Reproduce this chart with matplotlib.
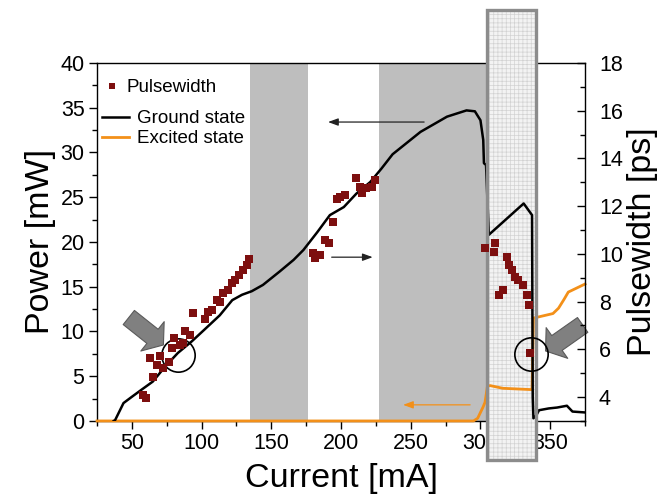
import matplotlib
matplotlib.use("Agg")
import matplotlib.pyplot as plt
import matplotlib.transforms as mtransforms
from matplotlib.patches import Rectangle
from matplotlib.lines import Line2D
from matplotlib.ticker import MultipleLocator
import numpy as np

plt.rcParams['font.family'] = ['Liberation Sans', 'DejaVu Sans']
plt.rcParams['hatch.linewidth'] = 0.5

# ---------------- data ----------------
gs_x = [37, 38, 44, 50, 57, 65, 74, 83, 93, 102, 113, 122, 129, 136, 144, 156, 166,
        173, 183, 192, 202, 211, 221, 229, 237, 257, 276, 290, 296, 300, 302, 302.5, 304,
        306, 331, 337, 337.5, 338, 340, 342, 349, 355, 362, 366, 375]
gs_p = [0, 0.1, 2.0, 2.7, 3.5, 4.4, 6.1, 7.6, 8.9, 10.2, 11.8, 13.5, 14.1, 14.5, 15.2, 16.7, 18.0,
        19.1, 21.1, 23.0, 23.9, 25.4, 26.7, 28.2, 29.8, 32.3, 34.0, 34.7, 34.6, 33.6, 31.4, 28.8, 28.6,
        20.8, 24.3, 23.0, 2.7, 0.3, 0.6, 1.2, 1.4, 1.5, 1.7, 1.05, 0.95]

es_x = [25, 295, 298, 302, 303.3, 305, 307, 316, 337, 338, 341, 352, 356, 360, 363, 375]
es_p = [0, 0, 0.3, 1.6, 2.1, 3.9, 3.95, 3.65, 3.5, 11.5, 11.6, 12.0, 12.6, 13.6, 14.4, 15.3]

pw_x = [58, 60, 63, 65.4, 67.8, 70.2, 72.6, 76.7, 79, 80.4, 84.5, 86.9, 88.1, 91.7, 94.1,
        102.5, 104.8, 107.3, 110.8, 113.2, 115.6, 119.2, 121.6, 124, 126.9, 130, 132.4, 134.3,
        180.2, 181.4, 185, 188.6, 191.6, 194, 196.9, 199.3, 202.9, 210.8, 213.7, 214.9, 218, 222, 224.4,
        303.3, 309.8, 310.5, 313.6, 316.5, 318.8, 320.8, 322.4, 324.9, 327.2, 330.8, 333.2, 335.1, 335.6]
pw_ps = [4.1, 3.95, 5.65, 4.86, 5.35, 5.72, 5.2, 5.48, 6.04, 6.49, 6.18, 6.26, 6.78, 6.6, 7.54,
         7.26, 7.58, 7.65, 8.07, 8.0, 8.35, 8.49, 8.77, 8.9, 9.12, 9.33, 9.54, 9.77,
         10.03, 9.82, 9.95, 10.58, 10.47, 11.35, 12.29, 12.4, 12.47, 13.2, 12.8, 12.54, 12.75, 12.8, 13.1,
         10.23, 10.09, 10.47, 8.28, 8.49, 9.88, 9.54, 9.33, 9.05, 8.91, 8.70, 8.28, 7.86, 5.84]

gray_bands = [(135, 176), (227, 305)]
hatched_band = (305, 340)

x_ticks = [50, 100, 150, 200, 250, 300, 350]
p_ticks = [0, 5, 10, 15, 20, 25, 30, 35, 40]
pw_ticks = [4, 6, 8, 10, 12, 14, 16, 18]

# ---------------- figure ----------------
fig = plt.figure(figsize=(6.6, 4.97), dpi=100)
ax = fig.add_axes([0.147, 0.153, 0.7394, 0.7203])
ax.set_xlim(25, 375)
ax.set_ylim(0, 40)

for a, b in gray_bands:
    ax.axvspan(a, b, color='#bebebe', lw=0, zorder=0.5)

trans = mtransforms.blended_transform_factory(ax.transData, ax.transAxes)
y0, y1 = -0.109, 1.148
fill = Rectangle((hatched_band[0], y0), hatched_band[1] - hatched_band[0], y1 - y0,
                 transform=trans, clip_on=False, facecolor='#f3f3f3',
                 edgecolor='#d2d2d2', hatch='++++', lw=0, zorder=3)
ax.add_patch(fill)
border = Rectangle((hatched_band[0], y0), hatched_band[1] - hatched_band[0], y1 - y0,
                   transform=trans, clip_on=False, fill=False,
                   edgecolor='#8c8c8c', lw=2.4, zorder=4.5)
ax.add_patch(border)

orange = '#f39019'
ax.plot(es_x, es_p, color=orange, lw=2.0, zorder=4, clip_on=False)
ax.plot(gs_x, gs_p, color='black', lw=1.8, zorder=4.2)

# thin arrows
ax.annotate('', xy=(190.7, 33.4), xytext=(259.6, 33.4),
            arrowprops=dict(arrowstyle='-|>,head_length=0.6,head_width=0.22', lw=0.9,
                            color='#222222', shrinkA=0, shrinkB=0), zorder=4)
ax.annotate('', xy=(222.7, 18.3), xytext=(193.3, 18.3),
            arrowprops=dict(arrowstyle='-|>,head_length=0.6,head_width=0.22', lw=0.9,
                            color='#222222', shrinkA=0, shrinkB=0), zorder=4)
ax.annotate('', xy=(244.5, 1.8), xytext=(292.6, 1.8),
            arrowprops=dict(arrowstyle='-|>,head_length=0.6,head_width=0.22', lw=0.9,
                            color=orange, shrinkA=0, shrinkB=0), zorder=4)

# big gray block arrows
for tail, tip in [((47.8, 11.56), (72.6, 8.49)), ((373.3, 10.73), (346.7, 7.82))]:
    ann = ax.annotate('', xy=tip, xytext=tail,
                      arrowprops=dict(arrowstyle='simple,head_length=0.5,head_width=1.35,tail_width=0.65',
                                      mutation_scale=20, fc='#808080', ec='#5a5a5a', lw=0.8,
                                      shrinkA=0, shrinkB=0), zorder=6, annotation_clip=False)
    ann.arrow_patch.set_clip_on(False)

# circles
ax.plot([83.3, 336.2], [7.37, 7.46], ls='none', marker='o', ms=24, mfc='none',
        mec='black', mew=1.2, zorder=6, clip_on=False)

# axes styling
ax.spines['right'].set_visible(False)
for s in ['left', 'bottom', 'top']:
    ax.spines[s].set_linewidth(1.0)
ax.set_xticks(x_ticks)
ax.set_yticks(p_ticks)
ax.xaxis.set_minor_locator(MultipleLocator(25))
ax.yaxis.set_minor_locator(MultipleLocator(2.5))
ax.tick_params(axis='both', which='major', direction='out', length=6, width=1, labelsize=15.5, pad=3)
ax.tick_params(axis='both', which='minor', direction='out', length=3.5, width=1)
ax.tick_params(axis='x', top=False)
ax.set_xlabel('Current [mA]', fontsize=24.5, labelpad=6)
ax.set_ylabel('Power [mW]', fontsize=24.5, labelpad=3)

ax2 = ax.twinx()
ax2.set_ylim(3, 18)
for s in ['left', 'top', 'bottom']:
    ax2.spines[s].set_visible(False)
ax2.spines['right'].set_linewidth(1.0)
ax2.scatter(pw_x, pw_ps, marker='s', s=40, color='#7d0f0f', lw=0, zorder=5)
ax2.set_yticks(pw_ticks)
ax2.yaxis.set_minor_locator(MultipleLocator(1))
ax2.tick_params(axis='y', which='major', direction='in', length=6, width=1, labelsize=15.5, pad=10)
ax2.tick_params(axis='y', which='minor', direction='in', length=3.5, width=1)
ax2.set_ylabel('Pulsewidth [ps]', fontsize=24.5, labelpad=3)

# legends
h1 = Line2D([], [], ls='none', marker='s', ms=5, color='#7d0f0f', mew=0)
leg1 = ax2.legend([h1], ['Pulsewidth'], loc='upper left', bbox_to_anchor=(0.014, 0.955),
                  frameon=False, fontsize=13.5, borderpad=0, borderaxespad=0,
                  handlelength=0.9, handletextpad=0.3)
ax2.add_artist(leg1)
h2 = Line2D([], [], color='black', lw=1.8)
h3 = Line2D([], [], color=orange, lw=2.0)
ax2.legend([h2, h3], ['Ground state', 'Excited state'], loc='upper left',
           bbox_to_anchor=(0.0096, 0.868), frameon=False, fontsize=13.5, borderpad=0,
           borderaxespad=0, handlelength=1.47, handletextpad=0.4, labelspacing=0.15)

fig.savefig('out.png', dpi=100)
